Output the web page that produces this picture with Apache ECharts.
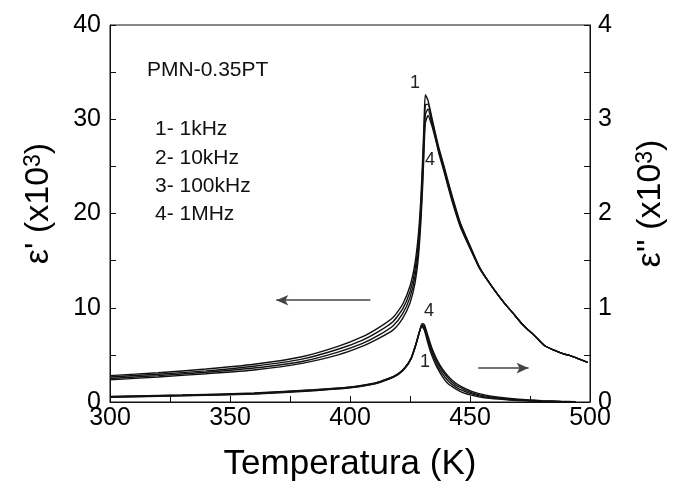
<!DOCTYPE html>
<html style="height: 100%">
<head>
	<meta charset="utf-8">
</head>
<body style="height: 100%; margin: 0; background: #fff">
<div id="container" style="width: 676px; height: 487px"></div>
<script type="text/javascript" src="https://cdn.jsdelivr.net/npm/echarts@6/dist/echarts.min.js"></script>
<script type="text/javascript">
    // temperature grid (K)
    var tempReal = [300, 320, 340, 360, 380, 395, 405, 412, 418, 422, 425, 427, 428.5, 429.5, 430.3, 430.9, 431.4,
        432.5, 434, 435.5, 437, 439, 441, 443, 446, 450, 454, 459, 464, 468, 472, 477, 481, 485, 489, 492, 495, 499];
    // eps' (x10^3), 1kHz .. 1MHz
    var real1 = [2.8, 3.1, 3.5, 4.0, 4.8, 5.9, 6.9, 7.9, 9.0, 10.4, 12.3, 14.6, 17.8, 21.5, 26.0, 30.0, 32.6,
        32.0, 30.3, 28.6, 27.0, 25.2, 23.3, 21.5, 19.0, 16.6, 14.3, 12.3, 10.6, 9.4, 8.2, 7.0, 6.0, 5.5, 5.1, 4.9, 4.6, 4.2];
    var real2 = [2.65, 2.95, 3.3, 3.8, 4.55, 5.6, 6.55, 7.5, 8.55, 9.9, 11.7, 13.9, 17.0, 20.6, 25.0, 29.0, 31.5,
        31.6, 30.0, 28.4, 26.8, 25.0, 23.1, 21.3, 18.85, 16.5, 14.25, 12.3, 10.6, 9.4, 8.2, 7.0, 6.0, 5.5, 5.1, 4.9, 4.6, 4.2];
    var real3 = [2.5, 2.8, 3.15, 3.6, 4.3, 5.3, 6.2, 7.1, 8.1, 9.4, 11.1, 13.2, 16.2, 19.8, 24.0, 28.0, 30.5,
        31.1, 29.7, 28.2, 26.6, 24.8, 22.9, 21.1, 18.7, 16.4, 14.2, 12.3, 10.6, 9.4, 8.2, 7.0, 6.0, 5.5, 5.1, 4.9, 4.6, 4.2];
    var real4 = [2.35, 2.65, 3.0, 3.4, 4.1, 5.0, 5.9, 6.75, 7.65, 8.9, 10.5, 12.5, 15.4, 19.0, 23.0, 27.0, 29.6,
        30.4, 29.4, 28.0, 26.4, 24.6, 22.7, 20.9, 18.55, 16.3, 14.15, 12.3, 10.6, 9.4, 8.2, 7.0, 6.0, 5.5, 5.1, 4.9, 4.6, 4.2];

    var tempImag = [300, 330, 360, 385, 400, 410, 416, 420, 423, 425.5, 427.5, 429, 430, 431, 432.5, 434, 436,
        438.5, 441, 444, 447, 451, 456, 462, 470, 480, 488, 494];
    // eps'' (x10^3)
    var imag1 = [0.06, 0.075, 0.095, 0.13, 0.16, 0.2, 0.25, 0.3, 0.37, 0.47, 0.62, 0.75, 0.8, 0.76, 0.62, 0.5, 0.38,
        0.27, 0.19, 0.14, 0.1, 0.07, 0.045, 0.03, 0.015, 0.005, 0.002, 0];
    var imag2 = [0.057, 0.072, 0.092, 0.127, 0.157, 0.197, 0.247, 0.297, 0.367, 0.467, 0.617, 0.75, 0.81, 0.78, 0.65, 0.53, 0.41,
        0.3, 0.22, 0.16, 0.12, 0.083, 0.055, 0.037, 0.02, 0.008, 0.004, 0.001];
    var imag3 = [0.053, 0.068, 0.088, 0.123, 0.153, 0.193, 0.243, 0.293, 0.363, 0.463, 0.613, 0.75, 0.82, 0.8, 0.68, 0.56, 0.44,
        0.33, 0.25, 0.18, 0.14, 0.097, 0.065, 0.044, 0.025, 0.012, 0.005, 0.002];
    var imag4 = [0.05, 0.065, 0.085, 0.12, 0.15, 0.19, 0.24, 0.29, 0.36, 0.46, 0.61, 0.75, 0.83, 0.82, 0.7, 0.58, 0.46,
        0.35, 0.27, 0.2, 0.155, 0.11, 0.075, 0.05, 0.03, 0.015, 0.007, 0.003];

    var sampleName = 'PMN-0.35PT';
    var legendLines = ['1- 1kHz', '2- 10kHz', '3- 100kHz', '4- 1MHz'];

    var font = "'Liberation Sans', Arial, sans-serif";

    function pairs(xs, ys) {
        return xs.map(function (x, i) { return [x, ys[i]]; });
    }

    function curve(data, axis, extra) {
        var s = {
            type: 'line',
            yAxisIndex: axis,
            data: data,
            showSymbol: false,
            smooth: 0.2,
            lineStyle: {color: '#111', width: 1.4},
            z: 3
        };
        for (var k in extra) s[k] = extra[k];
        return s;
    }

    function numLabel(txt, coord) {
        return {
            coord: coord,
            symbol: 'circle',
            symbolSize: 0,
            label: {show: true, position: 'inside', formatter: txt, color: '#222', fontSize: 18, fontFamily: font}
        };
    }

    var arrowStyle = {
        symbol: ['none', 'arrow'],
        symbolSize: [8, 12],
        silent: true,
        label: {show: false},
        lineStyle: {color: '#444', type: 'solid', width: 1.5}
    };

    var richName = {
        a: {fontSize: 34, fontFamily: font, color: '#000'},
        s: {fontSize: 23, fontFamily: font, color: '#000', verticalAlign: 'top', lineHeight: 24}
    };

    var dom = document.getElementById("container");
    var myChart = echarts.init(dom);
    var option = {
        animation: false,
        backgroundColor: '#fff',
        textStyle: {fontFamily: font},
        grid: {left: 110, right: 81, top: 25, bottom: 85, show: true, borderColor: '#111', borderWidth: 1},
        xAxis: {
            type: 'value',
            min: 300,
            max: 500,
            interval: 25,
            name: 'Temperatura (K)',
            nameLocation: 'middle',
            nameGap: 45,
            nameTextStyle: {fontSize: 35, color: '#000', fontFamily: font},
            axisLine: {lineStyle: {color: '#111', width: 1}},
            axisTick: {inside: true, length: 6, lineStyle: {color: '#111'}},
            axisLabel: {
                fontSize: 25, color: '#000', margin: 4, fontFamily: font,
                formatter: function (v) { return v % 50 === 0 ? String(v) : ''; }
            },
            splitLine: {show: false}
        },
        yAxis: [{
            type: 'value',
            min: 0,
            max: 40,
            interval: 5,
            name: "{a|ε' (x10}{s|3}{a|)}",
            nameLocation: 'middle',
            nameRotate: 90,
            nameGap: 54,
            nameTextStyle: {color: '#000', padding: [0, 0, 0, 20], rich: richName},
            axisLine: {show: true, lineStyle: {color: '#111', width: 1}},
            axisTick: {show: true, inside: true, length: 6, lineStyle: {color: '#111'}},
            axisLabel: {
                fontSize: 25, color: '#000', margin: 9, fontFamily: font,
                formatter: function (v) { return v % 10 === 0 ? String(v) : ''; }
            },
            splitLine: {show: false}
        }, {
            type: 'value',
            min: 0,
            max: 4,
            interval: 0.5,
            position: 'right',
            name: "{a|ε'' (x10}{s|3}{a|)}",
            nameLocation: 'middle',
            nameRotate: 90,
            nameGap: 44,
            nameTextStyle: {color: '#000', padding: [0, 0, 0, 20], rich: richName},
            axisLine: {show: true, lineStyle: {color: '#111', width: 1}},
            axisTick: {show: true, inside: true, length: 6, lineStyle: {color: '#111'}},
            axisLabel: {
                fontSize: 25, color: '#000', margin: 8, fontFamily: font,
                formatter: function (v) { return v % 1 === 0 ? String(v) : ''; }
            },
            splitLine: {show: false}
        }],
        graphic: [{
            type: 'text',
            left: 147,
            top: 60,
            style: {text: sampleName, fontSize: 21, fontFamily: font, fill: '#111'}
        }].concat(legendLines.map(function (t, i) {
            return {
                type: 'text',
                left: 155,
                top: 119 + i * 28.4,
                style: {text: t, fontSize: 21, fontFamily: font, fill: '#111'}
            };
        })),
        series: [
            curve(pairs(tempReal, real1), 0, {
                markPoint: {data: [numLabel('1', [427.1, 33.8]), numLabel('4', [433.3, 25.7])]},
                markLine: Object.assign({data: [[{coord: [408.5, 10.8]}, {coord: [369.3, 10.8]}]]}, arrowStyle)
            }),
            curve(pairs(tempReal, real2), 0, {}),
            curve(pairs(tempReal, real3), 0, {}),
            curve(pairs(tempReal, real4), 0, {}),
            curve(pairs(tempImag, imag1), 1, {
                markPoint: {data: [numLabel('4', [432.9, 0.97]), numLabel('1', [431.3, 0.42])]},
                markLine: Object.assign({data: [[{coord: [453.4, 0.36]}, {coord: [474.4, 0.36]}]]}, arrowStyle)
            }),
            curve(pairs(tempImag, imag2), 1, {}),
            curve(pairs(tempImag, imag3), 1, {}),
            curve(pairs(tempImag, imag4), 1, {})
        ]
    };

    if (option && typeof option === "object") {
        myChart.setOption(option, true);
    }
</script>
</body>
</html>
